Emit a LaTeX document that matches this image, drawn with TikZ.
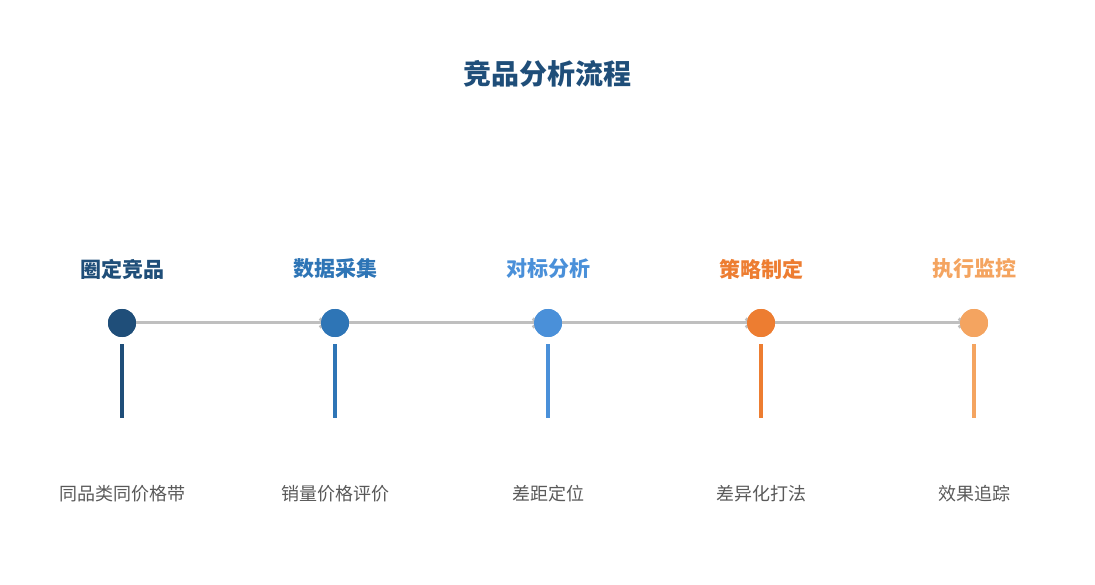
\documentclass[tikz,border=0pt]{standalone}
\usepackage{fontspec}
\setmainfont{Noto Sans CJK SC}
\usetikzlibrary{arrows.meta}
\definecolor{c1}{HTML}{1F4E79}
\definecolor{c2}{HTML}{2E75B6}
\definecolor{c3}{HTML}{4A90D9}
\definecolor{c4}{HTML}{ED7D31}
\definecolor{c5}{HTML}{F4A460}
\definecolor{ln}{HTML}{BFBFBF}
\definecolor{tx}{HTML}{595959}
\begin{document}
\begin{tikzpicture}[x=1pt,y=-1pt,
  dot/.style={circle,fill=#1,minimum size=28pt,inner sep=0pt},
  head/.style={text=#1,font=\fontsize{21}{24}\selectfont\bfseries},
  desc/.style={text=tx,font=\fontsize{18}{22}\selectfont},
  conn/.style={draw=ln,line width=3pt,-{Straight Barb[length=5pt,width=9pt]},shorten >=8pt}]
\useasboundingbox (0,0) rectangle (1095,585);
\node[text=c1,font=\fontsize{28}{32}\selectfont\bfseries] (title) at (547,74) {竞品分析流程};
\foreach \i/\x/\c/\h/\d in {1/122/c1/圈定竞品/同品类同价格带,2/335/c2/数据采集/销量价格评价,3/548/c3/对标分析/差距定位,4/761/c4/策略制定/差异化打法,5/974/c5/执行监控/效果追踪}{
  \node[dot=\c] (n\i) at (\x,323) {};
  \node[head=\c] (h\i) at (\x,269) {\h};
  \node[desc] (d\i) at (\x,494) {\d};
  \coordinate (s\i) at (\x,344);
  \coordinate (e\i) at (\x,418);
  \draw[\c,line width=4pt] (s\i) -- (e\i);
}
\begin{scope}[on background layer/.try]
\foreach \a/\b in {1/2,2/3,3/4,4/5}{\draw[conn] (n\a.center) -- (n\b.center);}
\end{scope}
\foreach \i/\c in {1/c1,2/c2,3/c3,4/c4,5/c5}{\fill[\c] (n\i) circle (14pt);}
\end{tikzpicture}
\end{document}
